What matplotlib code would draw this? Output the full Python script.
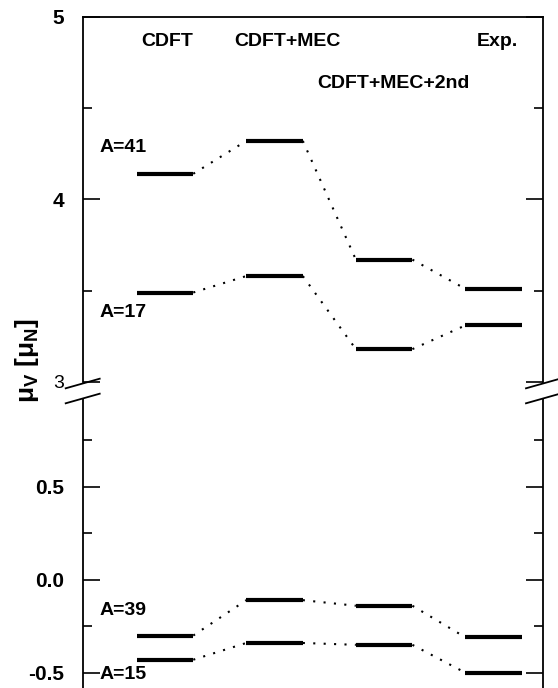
import matplotlib
matplotlib.use("Agg")
import matplotlib.pyplot as plt
from matplotlib.lines import Line2D

plt.rcParams['font.family'] = ['Liberation Sans', 'DejaVu Sans']
plt.rcParams['font.weight'] = 'bold'
plt.rcParams['mathtext.fontset'] = 'custom'
plt.rcParams['mathtext.rm'] = 'Liberation Sans:bold'
plt.rcParams['mathtext.it'] = 'Liberation Sans:bold'
plt.rcParams['mathtext.bf'] = 'Liberation Sans:bold'

# columns (methods)
methods = ['CDFT', 'CDFT+MEC', 'CDFT+MEC+2nd', 'Exp.']
xpos = [1, 2, 3, 4]

# isovector magnetic moments, upper panel
mu_A41 = [4.14, 4.32, 3.67, 3.51]
mu_A17 = [3.49, 3.58, 3.18, 3.31]
# lower panel
mu_A39 = [-0.30, -0.11, -0.14, -0.31]
mu_A15 = [-0.43, -0.34, -0.35, -0.50]

W, H = 558, 688
fig = plt.figure(figsize=(W / 100, H / 100), dpi=100)

left, right = 82.7 / W, 543 / W
ax_top = fig.add_axes([left, (H - 382) / H, right - left, (382 - 16.7) / H])
ax_bot = fig.add_axes([left, 0, right - left, (H - 399) / H])

half = 0.258


def draw_levels(ax, series):
    for vals in series:
        for i, (x, v) in enumerate(zip(xpos, vals)):
            ax.plot([x - half, x + half], [v, v], color='black', lw=3,
                    solid_capstyle='butt')
            if i + 1 < len(vals):
                ax.plot([x + half, xpos[i + 1] - half], [v, vals[i + 1]],
                        color='black', lw=1.5, linestyle=(0, (1, 4)))


draw_levels(ax_top, [mu_A41, mu_A17])
draw_levels(ax_bot, [mu_A39, mu_A15])

for ax in (ax_top, ax_bot):
    ax.set_xlim(0.249, 4.45)
    ax.set_xticks([])
    ax.tick_params(axis='y', which='both', direction='in', left=True,
                   right=True, labelsize=15, pad=13.5, width=1.2)
    ax.tick_params(axis='y', which='major', length=12)
    ax.tick_params(axis='y', which='minor', length=6.5)
    for s in ax.spines.values():
        s.set_linewidth(1.3)

ax_top.set_ylim(3.0, 5.0)
ax_top.set_yticks([3, 4, 5])
ax_top.set_yticklabels(['3', '4', '5'])
ax_top.set_yticks([3.5, 4.5], minor=True)
lab3 = ax_top.get_yticklabels()[0]
lab3.set_fontweight('normal')
lab3.set_fontsize(14)
ax_top.spines['bottom'].set_visible(False)

ax_bot.set_ylim(-0.582, 0.971)
ax_bot.set_yticks([-0.5, 0.0, 0.5])
ax_bot.set_yticklabels(['-0.5', '0.0', '0.5'])
ax_bot.set_yticks([-0.25, 0.25, 0.75], minor=True)
ax_bot.spines['top'].set_visible(False)
ax_bot.spines['bottom'].set_visible(False)

# method headers
head_x = [0.183, 0.444, 0.674, 0.900]
head_y = [0.931, 0.931, 0.818, 0.931]
for name, hx, hy in zip(methods, head_x, head_y):
    ax_top.text(hx, hy, name, transform=ax_top.transAxes, ha='center',
                va='center', fontsize=14, fontweight='bold')

# nucleus labels
ax_top.text(0.0376, 4.284, 'A=41', fontsize=14, fontweight='bold', va='center',
            transform=ax_top.get_yaxis_transform())
ax_top.text(0.0376, 3.381, 'A=17', fontsize=14, fontweight='bold', va='center',
            transform=ax_top.get_yaxis_transform())
ax_bot.text(0.0376, -0.163, 'A=39', fontsize=14, fontweight='bold', va='center',
            transform=ax_bot.get_yaxis_transform())
ax_bot.text(0.0376, -0.512, 'A=15', fontsize=14, fontweight='bold', va='center',
            transform=ax_bot.get_yaxis_transform())

# axis break marks
for xc in (82.7, 543):
    for yc in (383.5, 398.5):
        x0, x1 = xc - 17, xc + 17
        y0, y1 = yc + 4.8, yc - 4.8
        fig.add_artist(Line2D([x0 / W, x1 / W], [1 - y0 / H, 1 - y1 / H],
                              color='black', lw=1.3))

fig.text(27 / W, 1 - 360 / H, r'μ$_\mathrm{V}$ [μ$_\mathrm{N}$]', rotation=90,
         ha='center', va='center', fontsize=19, fontweight='bold')

fig.savefig('out.png', dpi=100)
